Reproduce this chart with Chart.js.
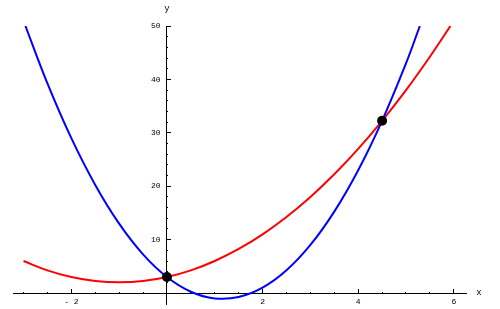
<!DOCTYPE html>
<html>
<head>
<meta charset="utf-8">
<script src="https://cdn.jsdelivr.net/npm/chart.js@4/dist/chart.umd.min.js"></script>
<style>
    html, body { margin: 0; padding: 0; background: #fff; }
</style>
</head>
<body>
<canvas id="chart" width="500" height="309"></canvas>
<script>
// red parabola, values
const redX = [-3, -2.5, -2, -1.5, -1, -0.5, 0, 0.5, 1, 1.5, 2, 2.5, 3, 3.5, 4, 4.5, 5, 5.5, 5.93];
const redY = [6, 4.25, 3, 2.25, 2, 2.25, 3, 4.25, 6, 8.25, 11, 14.25, 18, 22.25, 27, 32.25, 38, 44.25, 50];

// blue parabola
const blueX = [-2.96, -2.5, -2, -1.5, -1, -0.5, 0, 0.5, 1, 1.5, 2, 2.5, 3, 3.5, 4, 4.5, 5, 5.29];
const blueY = [50, 39.25, 29, 20.25, 13, 7.25, 3, 0.25, -1, -0.75, 1, 4.25, 9, 15.25, 23, 32.25, 43, 50];

// intersection points
const crossX = [0, 4.5];
const crossY = [3, 32.25];

// axis ticks
const xTicks = [-3, -2.5, -2, -1.5, -1, -0.5, 0.5, 1, 1.5, 2, 2.5, 3, 3.5, 4, 4.5, 5, 5.5, 6];
const xLabels = [-2, 2, 4, 6];
const yTicks = [2, 4, 6, 8, 10, 12, 14, 16, 18, 20, 22, 24, 26, 28, 30, 32, 34, 36, 38, 40, 42, 44, 46, 48, 50];
const yLabels = [10, 20, 30, 40, 50];

const X_MIN = -3.22, X_MAX = 6.255;
const Y_MIN = -2.05, Y_MAX = 50;
// the y labels sit a little left of the axis, chart.js puts them flush on it
const Y_LABEL_AT = -0.132;
const labelFont = { family: '"Liberation Mono", monospace', size: 8 };

function toPoints(xs, ys) {
    return xs.map((x, i) => ({ x: x, y: ys[i] }));
}

// axes through the origin should not eat any layout space
const noHeight = s => { s.height = 0; s.paddingLeft = 0; s.paddingRight = 0; };
const noWidth = s => { s.width = 0; s.paddingTop = 0; s.paddingBottom = 0; };

/**
 * axis names drawn at the end of each axis, like Mathematica does
 */
const axisLetters = {
    id: 'axisLetters',
    afterDraw(chart) {
        const ctx = chart.ctx;
        const x = chart.scales.x;
        const y = chart.scales.y;
        ctx.save();
        ctx.font = '9px "Liberation Mono", monospace';
        ctx.fillStyle = '#000';
        ctx.textAlign = 'center';
        ctx.textBaseline = 'middle';
        ctx.fillText('x', x.right + 13, y.getPixelForValue(0));
        ctx.fillText('y', x.getPixelForValue(0), y.top - 17);
        ctx.restore();
    }
};

const ctx = document.getElementById('chart').getContext('2d');
new Chart(ctx, {
    type: 'scatter',
    data: {
        datasets: [
            {
                data: toPoints(crossX, crossY),
                pointRadius: 5,
                pointBackgroundColor: '#000',
                pointBorderColor: '#000',
                pointBorderWidth: 0,
                showLine: false,
                order: 0
            },
            {
                data: toPoints(blueX, blueY),
                borderColor: '#0000ff',
                borderWidth: 2,
                pointRadius: 0,
                showLine: true,
                tension: 0.4,
                order: 1
            },
            {
                data: toPoints(redX, redY),
                borderColor: '#ff0000',
                borderWidth: 2,
                pointRadius: 0,
                showLine: true,
                tension: 0.4,
                order: 2
            }
        ]
    },
    options: {
        responsive: false,
        animation: false,
        events: [],
        layout: { padding: { left: 13, right: 34, top: 26, bottom: 2 } },
        plugins: {
            legend: { display: false },
            tooltip: { enabled: false }
        },
        scales: {
            x: {
                type: 'linear',
                min: X_MIN,
                max: X_MAX,
                position: { y: 0 },
                afterFit: noHeight,
                afterBuildTicks: s => { s.ticks = xTicks.map(v => ({ value: v })); },
                ticks: { display: false },
                grid: { drawOnChartArea: false, tickLength: -2, color: '#000', lineWidth: 1 },
                border: { display: true, color: '#000', width: 1 }
            },
            xMajor: {
                type: 'linear',
                axis: 'x',
                min: X_MIN,
                max: X_MAX,
                position: { y: 0 },
                afterFit: noHeight,
                afterBuildTicks: s => { s.ticks = xLabels.map(v => ({ value: v })); },
                ticks: {
                    font: labelFont,
                    color: '#000',
                    padding: 8,
                    maxRotation: 0,
                    autoSkip: false,
                    callback: v => v < 0 ? '- ' + (-v) : String(v)
                },
                grid: { drawOnChartArea: false, tickLength: -4, color: '#000', lineWidth: 1 },
                border: { display: false }
            },
            y: {
                type: 'linear',
                min: Y_MIN,
                max: Y_MAX,
                position: { x: 0 },
                afterFit: noWidth,
                afterBuildTicks: s => { s.ticks = yTicks.map(v => ({ value: v })); },
                ticks: { display: false },
                grid: { drawOnChartArea: false, tickLength: -2, color: '#000', lineWidth: 1 },
                border: { display: true, color: '#000', width: 1 }
            },
            yMajor: {
                type: 'linear',
                axis: 'y',
                min: Y_MIN,
                max: Y_MAX,
                position: { x: 0 },
                afterFit: noWidth,
                afterBuildTicks: s => { s.ticks = yLabels.map(v => ({ value: v })); },
                ticks: { display: false },
                grid: { drawOnChartArea: false, tickLength: -4, color: '#000', lineWidth: 1 },
                border: { display: false }
            },
            yLabel: {
                type: 'linear',
                axis: 'y',
                min: Y_MIN,
                max: Y_MAX,
                position: { x: Y_LABEL_AT },
                afterFit: noWidth,
                afterBuildTicks: s => { s.ticks = yLabels.map(v => ({ value: v })); },
                ticks: {
                    font: labelFont,
                    color: '#000',
                    autoSkip: false,
                    callback: v => String(v)
                },
                grid: { display: false },
                border: { display: false }
            }
        }
    },
    plugins: [axisLetters]
});
</script>
</body>
</html>
